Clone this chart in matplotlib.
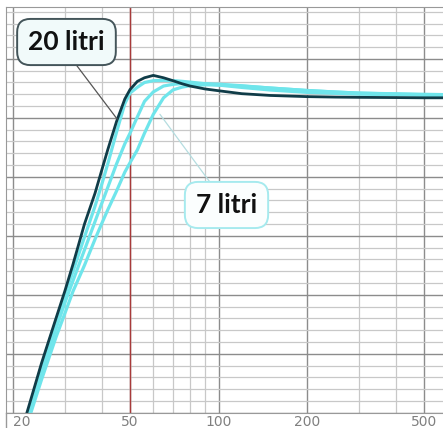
import matplotlib
matplotlib.use("Agg")
import matplotlib.pyplot as plt
from matplotlib.lines import Line2D
from matplotlib.ticker import NullFormatter

# Shared frequency points above each curve's first sample (Hz)
FREQ = [25, 28, 30, 32, 35, 38, 40, 42, 45, 48, 50, 53, 56, 60, 65, 70,
        75, 80, 90, 100, 120, 150, 200, 250, 300, 400, 500, 590]

# Each curve enters at the bottom of the plot (60 dB) at its own frequency
FLOOR_DB = 60.0
START_20L = 22.3
START_MID_A = 22.5
START_MID_B = 22.7
START_7L = 23.0

SPL_20L = [64.2, 68.0, 70.3, 72.6, 76.0, 78.6, 80.5, 82.3, 84.7, 86.6, 87.4,
           88.1, 88.4, 88.6, 88.4, 88.15, 87.9, 87.7, 87.45, 87.3, 87.05,
           86.9, 86.8, 86.76, 86.74, 86.72, 86.7, 86.7]
SPL_MID_A = [64.0, 67.8, 70.0, 72.0, 74.9, 77.5, 79.3, 81.1, 83.8, 86.2, 87.1,
             87.6, 88.0, 88.15, 88.18, 88.16, 88.1, 88.03, 87.9, 87.78, 87.58,
             87.36, 87.16, 87.08, 87.01, 86.96, 86.91, 86.88]
SPL_MID_B = [63.4, 67.1, 69.3, 71.2, 73.8, 76.2, 77.7, 79.1, 81.1, 82.8, 83.7,
             85.1, 86.4, 87.2, 87.7, 87.84, 87.91, 87.92, 87.88, 87.86, 87.72,
             87.53, 87.32, 87.19, 87.10, 87.02, 86.96, 86.92]
SPL_7L = [62.8, 66.4, 68.4, 70.3, 72.5, 74.7, 76.0, 77.2, 78.8, 80.4, 81.2,
          82.3, 83.7, 85.3, 86.7, 87.37, 87.6, 87.73, 87.8, 87.78, 87.7,
          87.53, 87.32, 87.19, 87.1, 87.04, 87.0, 86.97]

X_MAJOR = [20, 50, 100, 200, 500]
X_LABELS = ["20", "50", "100", "200", "500"]
X_MINOR = [30, 40, 60, 70, 80, 90, 300, 400]
MARKER_HZ = 50

fig = plt.figure(figsize=(4.43, 4.28), dpi=100)
ax = fig.add_axes([6 / 443, 15.3 / 428, 437 / 443, 405.7 / 428])
ax.set_xscale("log")
ax.set_xlim(18.93, 580)
ax.set_ylim(60, 94.4)

ax.set_xticks(X_MAJOR, labels=X_LABELS)
ax.set_xticks(X_MINOR, minor=True)
ax.xaxis.set_minor_formatter(NullFormatter())
ax.set_yticks(range(60, 95, 5))
ax.set_yticks(range(60, 95), minor=True)
ax.tick_params(axis="y", which="both", left=False, labelleft=False)
ax.tick_params(axis="x", which="both", length=0, pad=1.5, labelsize=10,
               labelcolor="#808080")
ax.get_xticklabels()[0].set_horizontalalignment("left")

ax.set_axisbelow(True)
ax.grid(which="major", color="#8c8c8c", lw=1.0)
ax.grid(which="minor", color="#c8c8c8", lw=0.9)
for side in ("left", "top", "bottom"):
    ax.spines[side].set_color("#999999")
ax.spines["right"].set_visible(False)
fig.add_artist(Line2D([6 / 443, 6 / 443], [0, 15.3 / 428],
                      transform=fig.transFigure, color="#999999", lw=1.0))

ax.axvline(MARKER_HZ, color="#a83a3a", lw=1.0)

cyan = "#6fe5eb"
for start, spl in ((START_7L, SPL_7L), (START_MID_B, SPL_MID_B),
                   (START_MID_A, SPL_MID_A)):
    ax.plot([start] + FREQ, [FLOOR_DB] + spl, color=cyan, lw=2.3,
            solid_capstyle="round", solid_joinstyle="round")
ax.plot([START_20L] + FREQ, [FLOOR_DB] + SPL_20L, color="#103c48", lw=2.0,
        solid_joinstyle="round")

label_font = dict(fontsize=19, fontweight="bold", family=["Lato", "DejaVu Sans"],
                  color="#111111", ha="center", va="center")
ax.annotate("20 litri", xy=(45.2, 84.9), xytext=(0.1384, 0.9137),
            textcoords="axes fraction",
            bbox=dict(boxstyle="round,pad=0.42,rounding_size=0.5",
                      fc="#f1fafa", ec="#44555a", lw=1.4),
            arrowprops=dict(arrowstyle="-", color="#555555", lw=0.9,
                            relpos=(0.52, 0), shrinkA=0, shrinkB=0),
            **label_font)
ax.annotate("7 litri", xy=(63.2, 85.3), xytext=(0.5046, 0.512),
            textcoords="axes fraction",
            bbox=dict(boxstyle="round,pad=0.42,rounding_size=0.5",
                      fc="#fbfefe", ec="#a6eaee", lw=1.4),
            arrowprops=dict(arrowstyle="-", color="#b5dde0", lw=0.9,
                            relpos=(0.36, 1), shrinkA=0, shrinkB=0),
            **label_font)

fig.savefig("out.png", dpi=100)
